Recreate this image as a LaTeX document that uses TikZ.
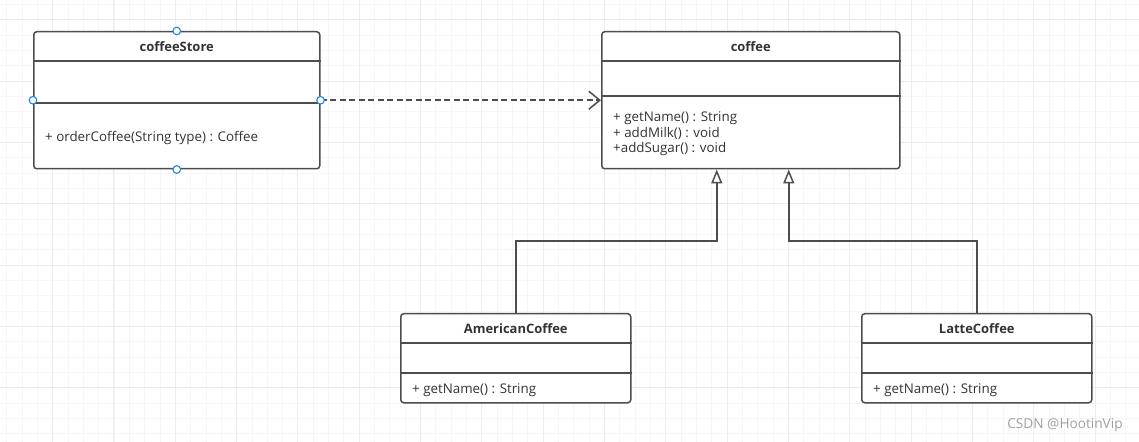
\documentclass[tikz,border=0pt]{standalone}
\usepackage{fontspec}
\setmainfont{Open Sans}
\usetikzlibrary{arrows.meta,calc}
\definecolor{edge}{RGB}{77,77,77}
\definecolor{gminor}{RGB}{246,246,246}
\definecolor{gmajor}{RGB}{236,236,236}
\definecolor{handle}{RGB}{30,136,229}
\definecolor{txt}{RGB}{51,51,51}
\definecolor{wm}{RGB}{160,160,160}
\tikzset{
  classbox/.style={draw=edge, line width=1.5bp, fill=white, rounded corners=3bp, rectangle, inner sep=0pt, anchor=north west},
  divider/.style={draw=edge, line width=1.5bp},
  title/.style={font=\fontsize{13}{15}\selectfont\bfseries, text=txt, inner sep=0pt, text height=10bp, text depth=3bp},
  member/.style={font=\fontsize{13.4}{15}\selectfont, text=txt, inner sep=0pt, anchor=west, text height=10bp, text depth=3bp},
  dep/.style={draw=edge, line width=1.5bp, dash pattern=on 6bp off 3.5bp, -{Straight Barb[length=11bp,width=18bp,line width=1.5bp]}},
  inh/.style={draw=edge, line width=1.5bp, -{Triangle[open,length=14bp,width=11bp,fill=white]}},
  handlept/.style={draw=handle, line width=1.1bp, fill=white},
  minorline/.style={draw=gminor, line width=1bp},
  majorline/.style={draw=gmajor, line width=1bp},
  wmtext/.style={font=\fontsize{13.7}{15}\selectfont, text=wm, inner sep=0pt}
}
\begin{document}
\begin{tikzpicture}[x=1bp,y=-1bp]
\useasboundingbox (0,0) rectangle (1139,442);
\fill[white] (0,0) rectangle (1139,442);
\begin{scope}
\clip (0,0) rectangle (1139,442);
\foreach \i in {0,...,75} {
  \draw[minorline] ({6.67+15.333*\i},0) -- ({6.67+15.333*\i},442);
}
\foreach \i in {0,...,29} {
  \draw[minorline] (0,{4.67+15.333*\i}) -- (1139,{4.67+15.333*\i});
}
\foreach \i in {0,...,18} {
  \draw[majorline] ({-9+61.333*\i},0) -- ({-9+61.333*\i},442);
}
\foreach \i in {0,...,7} {
  \draw[majorline] (0,{20+61.333*\i}) -- (1139,{20+61.333*\i});
}
\end{scope}

% coffeeStore
\node[classbox, minimum width=286bp, minimum height=137bp] (cs) at (33,31) {};
\draw[divider] ($(cs.north west)+(0,30)$) -- ($(cs.north east)+(0,30)$);
\draw[divider] ($(cs.north west)+(0,72)$) -- ($(cs.north east)+(0,72)$);
\node[title] (cst) at ($(cs.north)+(0,17)$) {coffeeStore};
\node[member] (csm) at ($(cs.north west)+(12,107.5)$) {+ orderCoffee(String type) : Coffee};

% coffee
\node[classbox, minimum width=298bp, minimum height=137bp] (cf) at (601,31) {};
\draw[divider] ($(cf.north west)+(0,30)$) -- ($(cf.north east)+(0,30)$);
\draw[divider] ($(cf.north west)+(0,65)$) -- ($(cf.north east)+(0,65)$);
\node[title] (cft) at ($(cf.north)+(0,17)$) {coffee};
\node[member] (cfm1) at ($(cf.north west)+(12,87.5)$) {+ getName() : String};
\node[member] (cfm2) at ($(cf.north west)+(12,103)$) {+ addMilk() : void};
\node[member] (cfm3) at ($(cf.north west)+(12,118.5)$) {+addSugar() : void};

% AmericanCoffee
\node[classbox, minimum width=230bp, minimum height=89bp] (am) at (400,313) {};
\draw[divider] ($(am.north west)+(0,30)$) -- ($(am.north east)+(0,30)$);
\draw[divider] ($(am.north west)+(0,60)$) -- ($(am.north east)+(0,60)$);
\node[title] (amt) at ($(am.north)+(0,17)$) {AmericanCoffee};
\node[member] (amm) at ($(am.north west)+(12,77.5)$) {+ getName() : String};

% LatteCoffee
\node[classbox, minimum width=230bp, minimum height=89bp] (lt) at (861,313) {};
\draw[divider] ($(lt.north west)+(0,30)$) -- ($(lt.north east)+(0,30)$);
\draw[divider] ($(lt.north west)+(0,60)$) -- ($(lt.north east)+(0,60)$);
\node[title] (ltt) at ($(lt.north)+(0,17)$) {LatteCoffee};
\node[member] (ltm) at ($(lt.north west)+(12,77.5)$) {+ getName() : String};

% connectors
\draw[dep] (cs.east) -- (cf.west);
\draw[inh] (am.north) -- ++(0,-72) -| ([xshift=-34bp]cf.south);
\draw[inh] (lt.north) -- ++(0,-72) -| ([xshift=38bp]cf.south);

% selection handles
\draw[handlept] (cs.north) circle (3.8bp);
\draw[handlept] (cs.south) circle (3.8bp);
\draw[handlept] (cs.west) circle (3.8bp);
\draw[handlept] (cs.east) circle (3.8bp);

% watermark
\node[wmtext] (wmk) at (1065,425) {CSDN @HootinVip};
\end{tikzpicture}
\end{document}
